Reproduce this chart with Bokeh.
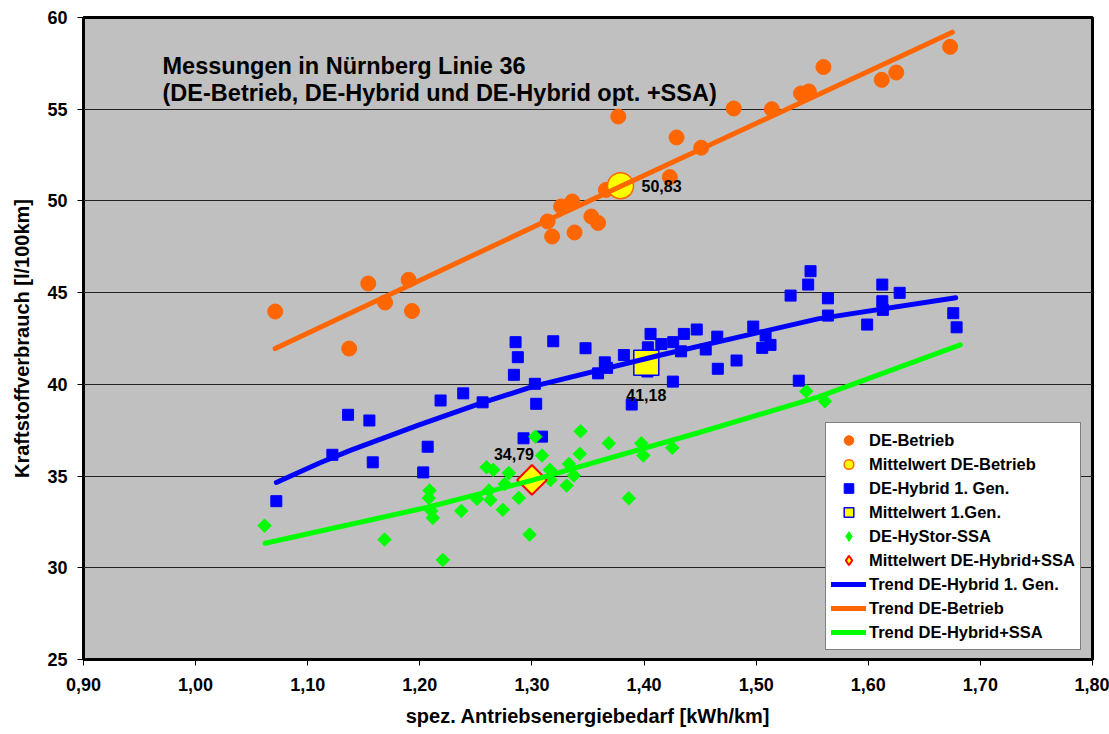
from bokeh.plotting import figure
from bokeh.models import (Range1d, FixedTicker, CustomJSTickFormatter, Legend, LegendItem)
from bokeh.core.properties import value
from bokeh.embed import file_html
from bokeh.resources import INLINE
import numpy as np

# ---------------- data ----------------
title_lines = ["Messungen in Nürnberg Linie 36",
               "(DE-Betrieb, DE-Hybrid und DE-Hybrid opt. +SSA)"]
x_label = "spez. Antriebsenergiebedarf [kWh/km]"
y_label = "Kraftstoffverbrauch [l/100km]"

x_ticks = [0.90, 1.00, 1.10, 1.20, 1.30, 1.40, 1.50, 1.60, 1.70, 1.80]
x_tick_labels = ["0,90", "1,00", "1,10", "1,20", "1,30", "1,40", "1,50", "1,60", "1,70", "1,80"]
y_ticks = [25, 30, 35, 40, 45, 50, 55, 60]

# DE-Betrieb
de_x = [1.071, 1.137, 1.154, 1.169, 1.190, 1.193, 1.314, 1.318, 1.326, 1.336, 1.338, 1.353,
        1.359, 1.366, 1.377, 1.423, 1.429, 1.451, 1.480, 1.514, 1.540, 1.547, 1.560, 1.612,
        1.625, 1.673]
de_y = [43.97, 41.95, 45.50, 44.46, 45.70, 44.00, 48.88, 48.06, 49.70, 49.97, 48.28, 49.15,
        48.80, 50.60, 54.60, 51.30, 53.46, 52.90, 55.04, 55.00, 55.86, 55.97, 57.30, 56.60,
        57.00, 58.40]
de_mean_x = [1.379]
de_mean_y = [50.83]

# DE-Hybrid 1. Gen.
hy_x = [1.072, 1.122, 1.136, 1.155, 1.158, 1.203, 1.207, 1.2185, 1.2387, 1.256, 1.2839, 1.2854,
        1.2874, 1.2925, 1.3026, 1.3038, 1.309, 1.319, 1.3478, 1.359, 1.365, 1.367, 1.382, 1.389,
        1.403, 1.4034, 1.4058, 1.4154, 1.426, 1.4257, 1.433, 1.4355, 1.447, 1.455, 1.4653, 1.4658,
        1.4825, 1.4974, 1.5054, 1.5084, 1.5128, 1.5307, 1.538, 1.5464, 1.5485, 1.564, 1.564,
        1.599, 1.6125, 1.6125, 1.613, 1.628, 1.6758, 1.6788]
hy_y = [33.63, 36.16, 38.34, 38.03, 35.75, 35.20, 36.60, 39.12, 39.51, 39.02, 40.52, 42.30,
        41.48, 37.06, 40.03, 38.94, 37.15, 42.35, 41.97, 40.60, 41.20, 40.90, 41.60, 38.90,
        40.70, 42.02, 42.75, 42.20, 42.30, 40.15, 41.80, 42.75, 42.99, 41.90, 42.60, 40.85,
        41.30, 43.15, 41.99, 42.66, 42.15, 44.84, 40.20, 45.44, 46.17, 44.69, 43.75,
        43.26, 45.44, 44.53, 44.06, 44.99, 43.88, 43.11]
hy_mean_x = [1.402]
hy_mean_y = [41.18]

# DE-HyStor-SSA
ss_x = [1.0615, 1.1685, 1.2087, 1.208, 1.2102, 1.2116, 1.2205, 1.237, 1.251, 1.2595, 1.2655,
        1.2616, 1.263, 1.274, 1.2794, 1.2758, 1.2883, 1.2979, 1.303, 1.309, 1.316, 1.3166, 1.333,
        1.331, 1.3374, 1.3427, 1.3434, 1.3686, 1.3864, 1.3975, 1.3993, 1.4252, 1.5447, 1.5613]
ss_y = [32.30, 31.54, 34.21, 33.80, 33.10, 32.72, 30.43, 33.10, 33.76, 35.48, 35.34, 34.21,
        33.70, 33.16, 35.17, 34.57, 33.81, 31.81, 37.15, 36.12, 35.34, 34.79, 35.66, 34.48,
        35.03, 36.21, 37.44, 36.79, 33.79, 36.79, 36.12, 36.54, 39.62, 39.08]
ss_mean_x = [1.300]
ss_mean_y = [34.79]

# trend lines
tr_hy_x = [1.072, 1.110, 1.138, 1.200, 1.256, 1.302, 1.415, 1.555, 1.678]
tr_hy_y = [34.65, 35.70, 36.40, 37.80, 39.00, 39.90, 41.60, 43.57, 44.72]
tr_de_x = [1.071, 1.314, 1.642, 1.675]
tr_de_y = [41.95, 48.95, 58.25, 59.20]
tr_ss_x = [1.062, 1.207, 1.299, 1.450, 1.555, 1.682]
tr_ss_y = [31.34, 33.30, 34.75, 37.39, 39.30, 42.15]

# ---------------- styling ----------------
FONT = "Liberation Sans"
ORANGE = "#FF6600"
BLUE = "#0000FF"
GREEN = "#00FF00"
YELLOW = "#FFFF00"

p = figure(width=1109, height=734, output_backend="svg", toolbar_location=None,
           x_range=Range1d(0.9, 1.8), y_range=Range1d(25, 60),
           min_border_left=83, min_border_right=17, min_border_top=17, min_border_bottom=75)
p.background_fill_color = "#C0C0C0"
p.border_fill_color = "white"
p.outline_line_color = "black"
p.outline_line_width = 3

p.xgrid.visible = False
p.ygrid.grid_line_color = "#222222"
p.ygrid.grid_line_width = 1

p.xaxis.ticker = FixedTicker(ticks=x_ticks)
p.xaxis.formatter = CustomJSTickFormatter(args=dict(xt=x_ticks, xl=x_tick_labels), code="""
let b = 0;
for (let i = 0; i < xt.length; i++) {
  if (Math.abs(xt[i] - tick) < Math.abs(xt[b] - tick)) b = i;
}
return xl[b];
""")
p.yaxis.ticker = FixedTicker(ticks=y_ticks)

for ax in (p.xaxis[0], p.yaxis[0]):
    ax.major_label_text_font = FONT
    ax.major_label_text_font_style = "bold"
    ax.major_label_text_font_size = "18px"
    ax.major_label_text_color = "black"
    ax.axis_label_text_font = FONT
    ax.axis_label_text_font_style = "bold"
    ax.axis_label_text_font_size = "20px"
    ax.axis_label_text_color = "black"
    ax.minor_tick_line_color = None
    ax.major_tick_in = 0
    ax.major_tick_out = 6
    ax.major_tick_line_color = "black"
    ax.axis_line_color = "black"
    ax.axis_label_standoff = 11

p.xaxis.axis_label = x_label
p.yaxis.axis_label = y_label
p.xaxis.major_label_standoff = 12
p.yaxis.major_label_standoff = 10

# scatter series
r_de = p.scatter(de_x, de_y, marker="circle", size=15, fill_color=ORANGE, line_color=ORANGE)
r_hy = p.scatter(hy_x, hy_y, marker="square", size=11, fill_color=BLUE, line_color=BLUE)
# diamond-shaped companions (hidden under the rotated squares) used for the legend,
# because the legend does not rotate markers
lg_ss = p.scatter(ss_x, ss_y, marker="diamond", size=9, fill_color=GREEN, line_color=GREEN)
r_ss = p.scatter(ss_x, ss_y, marker="square", angle=np.pi / 4, size=9.5,
                 fill_color=GREEN, line_color=GREEN)

r_de_m = p.scatter(de_mean_x, de_mean_y, marker="circle", size=26, fill_color=YELLOW,
                   line_color=ORANGE, line_width=1.5)
r_hy_m = p.scatter(hy_mean_x, hy_mean_y, marker="square", size=25, fill_color=YELLOW,
                   line_color=BLUE, line_width=1.5)
lg_ss_m = p.scatter(ss_mean_x, ss_mean_y, marker="diamond", size=16, fill_color=YELLOW,
                    line_color="red", line_width=2)
r_ss_m = p.scatter(ss_mean_x, ss_mean_y, marker="square", angle=np.pi / 4, size=21,
                   fill_color=YELLOW, line_color="red", line_width=2)

# trend lines
r_tr_hy = p.line(tr_hy_x, tr_hy_y, line_color=BLUE, line_width=5, line_cap="round", line_join="round")
r_tr_de = p.line(tr_de_x, tr_de_y, line_color=ORANGE, line_width=5, line_cap="round", line_join="round")
r_tr_ss = p.line(tr_ss_x, tr_ss_y, line_color=GREEN, line_width=5, line_cap="round", line_join="round")

# mean value labels
def fmt(v):
    return f"{v:.2f}".replace(".", ",")

lab_kw = dict(text_font=value(FONT), text_font_style="bold", text_font_size="16px",
              text_color="black")
p.text(x=de_mean_x, y=de_mean_y, text=[fmt(v) for v in de_mean_y], x_offset=21,
       text_align="left", text_baseline="middle", **lab_kw)
p.text(x=hy_mean_x, y=hy_mean_y, text=[fmt(v) for v in hy_mean_y], y_offset=32,
       text_align="center", text_baseline="middle", **lab_kw)
p.text(x=ss_mean_x, y=ss_mean_y, text=[fmt(v) for v in ss_mean_y], x_offset=-18, y_offset=-26,
       text_align="center", text_baseline="middle", **lab_kw)

# title inside plot
p.text(x=[0.9705, 0.9705], y=[57.33, 55.86], text=title_lines, text_align="left",
       text_baseline="alphabetic", text_font=value(FONT), text_font_style="bold",
       text_font_size="23.5px", text_color="black")

legend = Legend(items=[
    LegendItem(label="DE-Betrieb", renderers=[r_de]),
    LegendItem(label="Mittelwert DE-Betrieb", renderers=[r_de_m]),
    LegendItem(label="DE-Hybrid 1. Gen.", renderers=[r_hy]),
    LegendItem(label="Mittelwert 1.Gen.", renderers=[r_hy_m]),
    LegendItem(label="DE-HyStor-SSA", renderers=[lg_ss]),
    LegendItem(label="Mittelwert DE-Hybrid+SSA", renderers=[lg_ss_m]),
    LegendItem(label="Trend DE-Hybrid 1. Gen.", renderers=[r_tr_hy]),
    LegendItem(label="Trend DE-Betrieb", renderers=[r_tr_de]),
    LegendItem(label="Trend DE-Hybrid+SSA", renderers=[r_tr_ss]),
], location=(742, 9))
legend.label_text_font = FONT
legend.label_text_font_style = "bold"
legend.label_text_font_size = "16.5px"
legend.label_text_color = "black"
legend.glyph_width = 35
legend.glyph_height = 24
legend.label_height = 24
legend.label_standoff = 3
legend.spacing = 0
legend.padding = 5
legend.margin = 0
legend.border_line_color = "black"
legend.border_line_width = 1
legend.background_fill_color = "white"
legend.background_fill_alpha = 1
p.add_layout(legend, "center")

open("out.html", "w").write(file_html(p, INLINE))
